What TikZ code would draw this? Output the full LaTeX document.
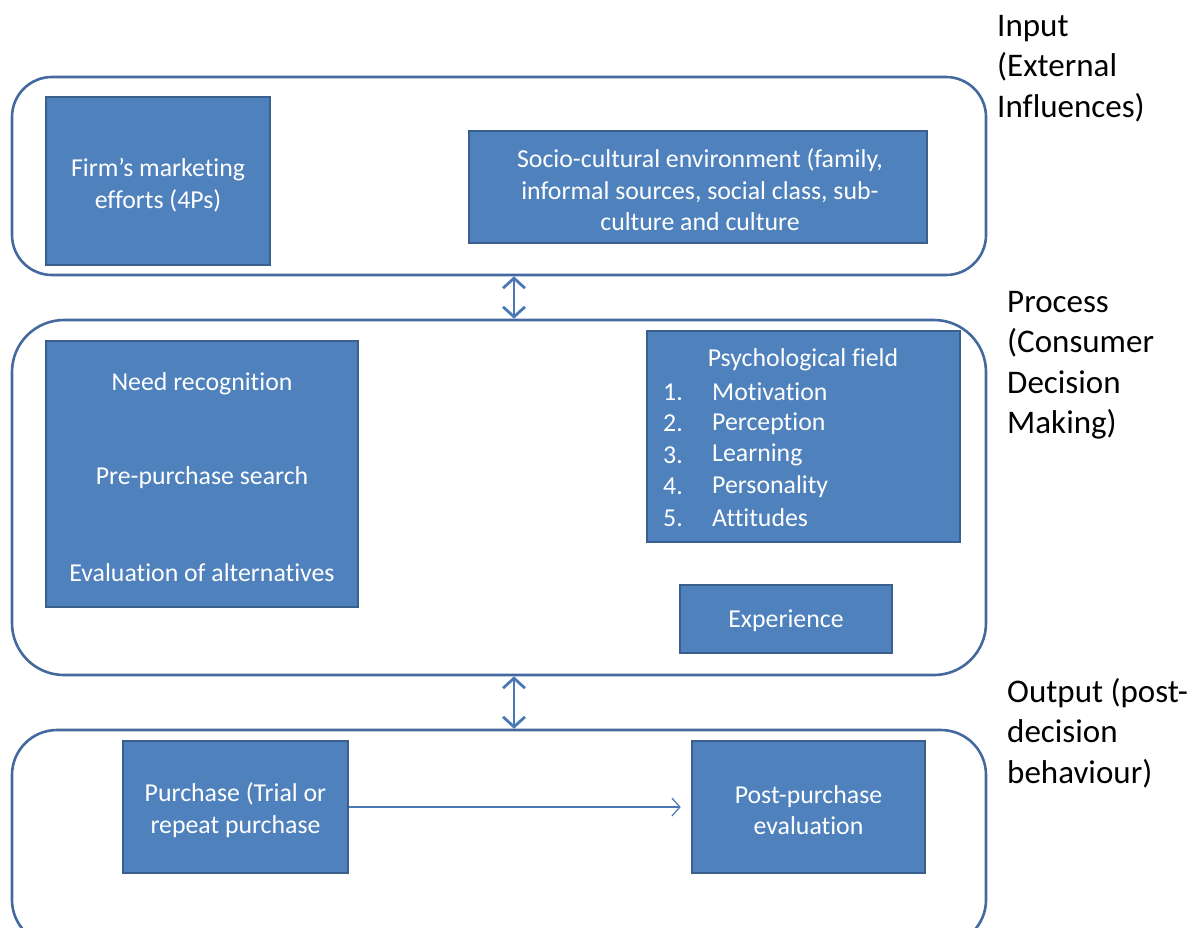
\documentclass[tikz,border=0pt]{standalone}
\usepackage{fontspec}
\setmainfont{Carlito}[Ligatures=NoCommon]
\usetikzlibrary{arrows.meta}
\definecolor{boxfill}{HTML}{4F81BD}
\definecolor{boxline}{HTML}{3A5F8C}
\definecolor{frameline}{HTML}{44699E}
\definecolor{arrowcol}{HTML}{4A78B4}
\tikzset{
  frame/.style={draw=frameline, line width=2.6pt, fill=white},
  bluebox/.style={draw=boxline, line width=2.6pt, fill=boxfill, inner sep=0pt},
  boxtext/.style={text=white, align=center, font=\fontsize{25.8}{31.6}\selectfont, inner sep=0pt},
  sidetext/.style={text=black, align=left, anchor=north west, font=\fontsize{33}{40.5}\selectfont, inner sep=0pt},
  dblarrow/.style={draw=arrowcol, line width=2.8pt, {Straight Barb[length=10pt,width=22pt]}-{Straight Barb[length=10pt,width=22pt]}},
  thinarrow/.style={draw=arrowcol, line width=1.2pt, -{Straight Barb[length=8pt,width=18pt]}}
}
\begin{document}
\begin{tikzpicture}[x=1pt,y=-1pt]
\useasboundingbox (0,0) rectangle (1204,927);
\clip (0,0) rectangle (1204,927);

% three stage frames
\node[frame, rounded corners=40pt, minimum width=974pt, minimum height=198pt] (inframe) at (499,176) {};
\node[frame, rounded corners=52pt, minimum width=974pt, minimum height=355pt] (procframe) at (499,497.5) {};
\node[frame, rounded corners=45pt, minimum width=974pt, minimum height=215pt] (outframe) at (499,837.5) {};

% input boxes
\node[bluebox, minimum width=224pt, minimum height=168pt] (firm) at (158,181) {};
\node[boxtext] (firmtxt) at (158,185) {Firm’s marketing\\efforts (4Ps)};
\node[bluebox, minimum width=458pt, minimum height=112pt] (socio) at (698,187) {};
\node[boxtext] (sociotxt) at (700,190) {Socio-cultural environment (family,\\informal sources, social class, sub-\\culture and culture};

% process boxes
\node[bluebox, minimum width=312pt, minimum height=266pt] (steps) at (202,474) {};
\node[boxtext] (need) at (202,384) {Need recognition};
\node[boxtext] (search) at (202,478) {Pre-purchase search};
\node[boxtext] (evalalt) at (202,573) {Evaluation of alternatives};

\node[bluebox, minimum width=313pt, minimum height=211pt] (psych) at (803.5,436.5) {};
\node[boxtext] (psychtitle) at (803,360) {Psychological field};
\foreach \n/\w/\yy in {1/Motivation/392, 2/Perception/423.5, 3/Learning/455, 4/Personality/486.5, 5/Attitudes/518}{
  \node[boxtext, anchor=west] (num\n) at (663,\yy) {\n.};
  \node[boxtext, anchor=west] (item\n) at (712,\yy) {\w};
}

\node[bluebox, minimum width=212pt, minimum height=68pt] (exper) at (786,619) {};
\node[boxtext] (expertxt) at (786,621) {Experience};

% output boxes
\node[bluebox, minimum width=225pt, minimum height=132pt] (purchase) at (235.5,807) {};
\node[boxtext] (purchasetxt) at (235.5,810) {Purchase (Trial or\\repeat purchase};
\node[bluebox, minimum width=233pt, minimum height=132pt] (post) at (808.5,807) {};
\node[boxtext] (posttxt) at (808.5,810) {Post-purchase\\evaluation};

% connectors
\coordinate (ax) at (514,0);
\draw[dblarrow] (inframe.south -| ax) -- (procframe.north -| ax);
\draw[dblarrow] (procframe.south -| ax) -- (outframe.north -| ax);
\coordinate (tipend) at ([xshift=-10pt]post.west);
\draw[thinarrow] (purchase.east) -- (tipend);

% stage labels
\node[sidetext] (inlabel) at (997,15) {Input\\(External\\Influences)};
\node[sidetext] (proclabel) at (1007,291) {Process\\(Consumer\\Decision\\Making)};
\node[sidetext] (outlabel) at (1007,678) {Output (post-\\decision\\behaviour)};
\end{tikzpicture}
\end{document}
